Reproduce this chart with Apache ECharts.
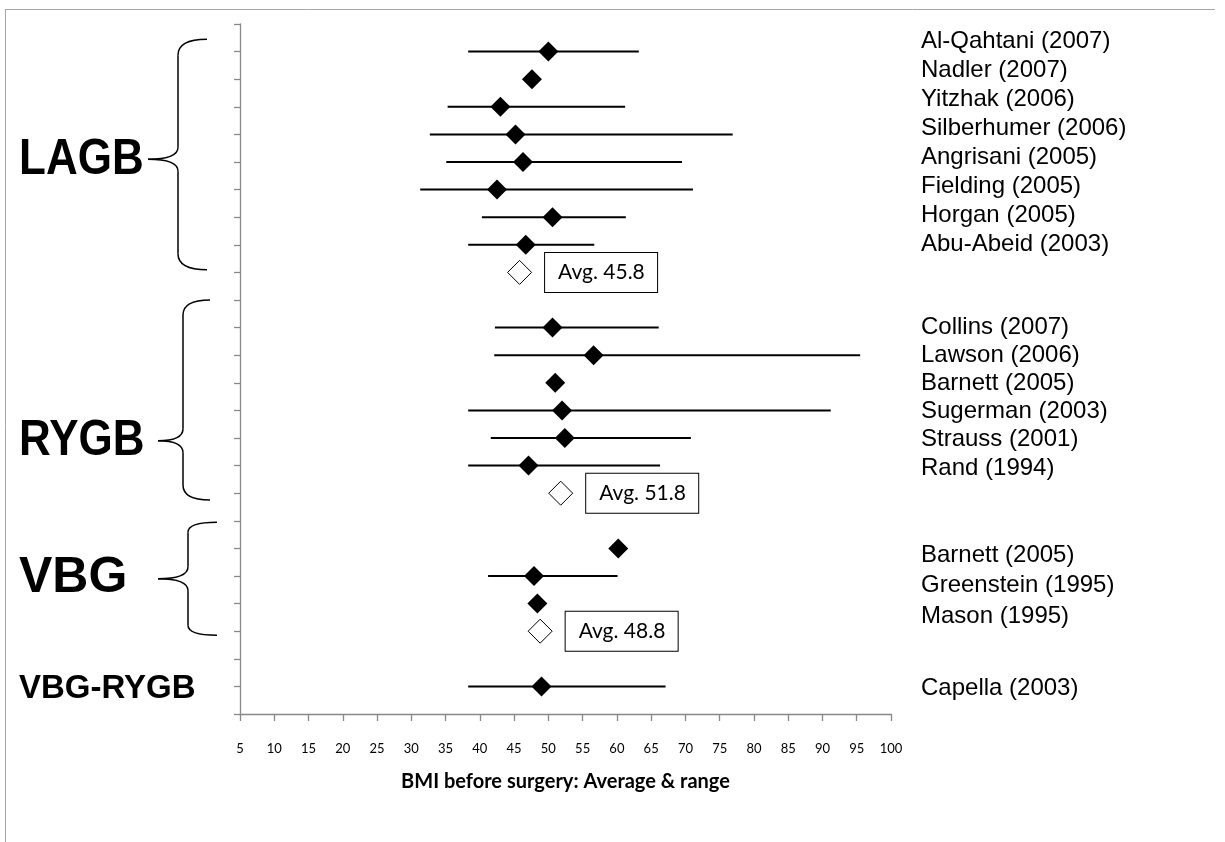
<!DOCTYPE html>
<html>
<head>
<meta charset="utf-8">
<title>BMI before surgery</title>
<script src="https://cdn.jsdelivr.net/npm/echarts@6/dist/echarts.min.js"></script>
<style>
  html, body { margin: 0; padding: 0; background: #fff; }
  #chart { width: 1225px; height: 842px; }
</style>
</head>
<body>
<div id="chart"></div>
<script>
// Studies, top to bottom, with the row each one sits on
const studies = [
  'Al-Qahtani (2007)', 'Nadler (2007)', 'Yitzhak (2006)', 'Silberhumer (2006)',
  'Angrisani (2005)', 'Fielding (2005)', 'Horgan (2005)', 'Abu-Abeid (2003)',
  'Collins (2007)', 'Lawson (2006)', 'Barnett (2005)', 'Sugerman (2003)',
  'Strauss (2001)', 'Rand (1994)',
  'Barnett (2005)', 'Greenstein (1995)', 'Mason (1995)',
  'Capella (2003)'
];
const studyGroup = [0, 0, 0, 0, 0, 0, 0, 0, 1, 1, 1, 1, 1, 1, 2, 2, 2, 3];
const studyRow   = [1, 2, 3, 4, 5, 6, 7, 8, 11, 12, 13, 14, 15, 16, 19, 20, 21, 24];

// Mean BMI and range (null where no range was reported)
const meanBMI = [50.0, 47.6, 43.0, 45.2, 46.3, 42.5, 50.6, 46.7,
                 50.6, 56.6, 51.0, 52.0, 52.4, 47.1,
                 60.2, 47.9, 48.4,
                 49.0];
const lowBMI  = [38.3, null, 35.3, 32.7, 35.1, 31.3, 40.3, 38.3,
                 42.2, 42.1, null, 38.3, 41.6, 38.3,
                 null, 41.2, null,
                 38.3];
const highBMI = [63.2, null, 61.2, 76.9, 69.5, 71.1, 61.3, 56.7,
                 66.1, 95.5, null, 91.2, 70.8, 66.3,
                 null, 60.1, null,
                 67.1];

// Procedure groups and their pooled averages
const groupNames = ['LAGB', 'RYGB', 'VBG', 'VBG-RYGB'];
const groupAvg   = [45.8, 51.8, 48.8];
const groupAvgRow = [9, 17, 22];

// Axis
const xMin = 5, xMax = 100, xStep = 5;
const rowCount = 25;
const xTitle = 'BMI before surgery: Average & range';

const rangeData = [];
studies.forEach((s, i) => {
  if (lowBMI[i] != null) rangeData.push([lowBMI[i], studyRow[i], highBMI[i]]);
});
const meanData = meanBMI.map((m, i) => [m, studyRow[i]]);
const avgData = groupAvg.map((a, i) => [a, groupAvgRow[i]]);

const chart = echarts.init(document.getElementById('chart'), null, { renderer: 'canvas' });

const axisGray = '#898989';
const option = {
  animation: false,
  backgroundColor: '#fff',
  grid: { left: 240, right: 334, top: 24, bottom: 128 },
  xAxis: {
    type: 'value', min: xMin, max: xMax, interval: xStep,
    splitLine: { show: false },
    axisLine: { show: true, onZero: false, lineStyle: { color: axisGray, width: 1.3 } },
    axisTick: { show: true, length: 7, lineStyle: { color: axisGray, width: 1.3 } },
    axisLabel: { margin: 28, fontFamily: 'Lato', fontSize: 13, color: '#000' },
    name: xTitle, nameLocation: 'middle', nameGap: 58,
    nameTextStyle: { fontFamily: 'Lato', fontWeight: 'bold', fontSize: 20, color: '#000' }
  },
  yAxis: {
    type: 'value', min: 0, max: rowCount, interval: 1, inverse: true,
    splitLine: { show: false },
    axisLine: { show: true, onZero: false, lineStyle: { color: axisGray, width: 1.3 } },
    axisTick: { show: true, length: 6, lineStyle: { color: axisGray, width: 1.3 } },
    axisLabel: { show: false }
  },
  series: [
    {
      type: 'custom', name: 'range',
      data: rangeData,
      encode: { x: [0, 2], y: 1 },
      renderItem: function (params, api) {
        const a = api.coord([api.value(0), api.value(1)]);
        const b = api.coord([api.value(2), api.value(1)]);
        return {
          type: 'line',
          shape: { x1: a[0], y1: a[1], x2: b[0], y2: b[1] },
          style: { stroke: '#000', lineWidth: 2 }
        };
      },
      z: 1
    },
    {
      type: 'scatter', name: 'mean',
      data: meanData,
      symbol: 'diamond', symbolSize: [20, 20],
      itemStyle: { color: '#000', opacity: 1 },
      z: 3
    },
    {
      type: 'scatter', name: 'average',
      data: avgData,
      symbol: 'diamond', symbolSize: [24, 24],
      itemStyle: { color: '#fff', borderColor: '#000', borderWidth: 1, opacity: 1 },
      label: {
        show: true, position: 'right', distance: 13,
        formatter: p => 'Avg. ' + p.value[0].toFixed(1),
        fontFamily: 'Lato', fontSize: 21, color: '#000',
        backgroundColor: '#fff', borderColor: '#000', borderWidth: 1,
        width: 96, lineHeight: 24, padding: [8, 3, 7, 13], align: 'left'
      },
      z: 3
    }
  ]
};
chart.setOption(option);

// Left-hand group labels with their braces, right-hand study names, frame
const rowY = r => chart.convertToPixel({ yAxisIndex: 0 }, r);

const braces = [
  { top: 0.55, tip: 4.9, bottom: 8.9, xEnd: 207, xMid: 178, xTip: 148, r: 16 },
  { top: 10.0, tip: 15.1, bottom: 17.25, xEnd: 210, xMid: 183, xTip: 158, r: 15 },
  { top: 18.05, tip: 20.1, bottom: 22.15, xEnd: 217, xMid: 188, xTip: 158, r: 10 }
];
const groupLabelStyle = [
  { row: 4.93, size: 50, sx: 0.88 }, { row: 15.1, size: 50, sx: 0.88 },
  { row: 20.07, size: 50, sx: 1 }, { row: 24.1, size: 33, sx: 1 }
];
const labelBlocks = [
  { first: 41, step: 29 }, { first: 327, step: 28.2 }, { first: 555, step: 30.5 }, { first: 688, step: 29 }
];

const braceStyle = { fill: null, stroke: '#000', lineWidth: 1.5 };
function braceParts(b) {
  const yT = rowY(b.top), yP = rowY(b.tip), yB = rowY(b.bottom);
  const r2 = 12;
  const curve = (x1, y1, cx, cy, x2, y2) => ({
    type: 'bezierCurve', shape: { x1: x1, y1: y1, cpx1: cx, cpy1: cy, x2: x2, y2: y2 }, style: braceStyle
  });
  const seg = (x1, y1, x2, y2) => ({
    type: 'line', shape: { x1: x1, y1: y1, x2: x2, y2: y2 }, style: braceStyle
  });
  return [
    curve(b.xEnd, yT, b.xMid, yT, b.xMid, yT + b.r),
    seg(b.xMid, yT + b.r, b.xMid, yP - r2),
    curve(b.xMid, yP - r2, b.xMid, yP, b.xTip, yP),
    curve(b.xTip, yP, b.xMid, yP, b.xMid, yP + r2),
    seg(b.xMid, yP + r2, b.xMid, yB - b.r),
    curve(b.xMid, yB - b.r, b.xMid, yB, b.xEnd, yB)
  ];
}

const graphic = [];
braces.forEach(b => { braceParts(b).forEach(p => graphic.push(p)); });
groupNames.forEach((g, i) => {
  const st = groupLabelStyle[i];
  graphic.push({
    type: 'text', x: 19, y: rowY(st.row), scaleX: st.sx,
    style: {
      text: g, fill: '#000', fontFamily: 'Liberation Sans', fontWeight: 'bold',
      fontSize: st.size, textVerticalAlign: 'middle', textAlign: 'left'
    }
  });
});
const countInGroup = [0, 0, 0, 0];
studies.forEach((s, i) => {
  const g = studyGroup[i];
  const blk = labelBlocks[g];
  const y = blk.first + blk.step * countInGroup[g]++;
  graphic.push({
    type: 'text', x: 921, y: y,
    style: {
      text: s, fill: '#000', fontFamily: 'Liberation Sans', fontSize: 24,
      textVerticalAlign: 'middle', textAlign: 'left'
    }
  });
});
// outer frame: top and left edges
graphic.push({ type: 'line', shape: { x1: 5, y1: 9.5, x2: 1215, y2: 9.5 }, style: { stroke: '#a6a6a6', lineWidth: 1 } });
graphic.push({ type: 'line', shape: { x1: 5.5, y1: 9, x2: 5.5, y2: 842 }, style: { stroke: '#a6a6a6', lineWidth: 1 } });

chart.setOption({ graphic: graphic });
</script>
</body>
</html>
